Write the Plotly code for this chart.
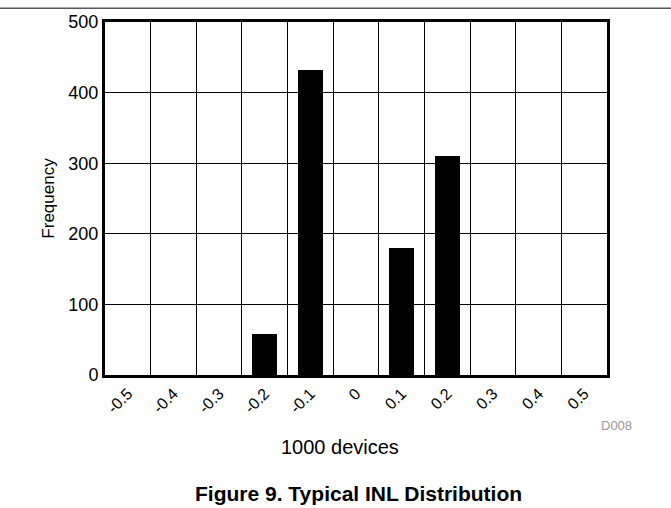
import plotly.graph_objects as go

# INL histogram (1000 devices)
inl_bins = [-0.5, -0.4, -0.3, -0.2, -0.1, 0.0, 0.1, 0.2, 0.3, 0.4, 0.5]
tick_labels = ["-0.5", "-0.4", "-0.3", "-0.2", "-0.1", "0", "0.1", "0.2", "0.3", "0.4", "0.5"]
counts = [0, 0, 0, 58, 432, 0, 180, 310, 0, 0, 0]
bin_edges = [-0.45, -0.35, -0.25, -0.15, -0.05, 0.05, 0.15, 0.25, 0.35, 0.45]

FONT = "Arial, Liberation Sans, sans-serif"

W, H = 671, 508
ML, MR, MT, MB = 105, 64, 18, 133
PW, PH = W - ML - MR, H - MT - MB

fig = go.Figure()
fig.add_trace(go.Bar(
    x=inl_bins, y=counts, width=0.055,
    marker=dict(color="black", line=dict(width=0)),
    showlegend=False,
))

fig.update_layout(
    width=W, height=H,
    margin=dict(l=ML, r=MR, t=MT, b=MB, pad=0),
    paper_bgcolor="white", plot_bgcolor="white",
    font=dict(family=FONT, size=14, color="black"),
    bargap=0,
)

fig.update_xaxes(
    range=[-0.55, 0.55],
    tickmode="array", tickvals=inl_bins, ticktext=tick_labels,
    tickangle=-45, ticks="", showgrid=False, zeroline=False,
    tickfont=dict(size=16, family=FONT),
    showline=True, mirror=True, linecolor="black", linewidth=3,
    minor=dict(tickmode="array", tickvals=bin_edges, showgrid=True,
               gridcolor="black", gridwidth=1, ticks=""),
)
fig.update_yaxes(
    range=[0, 500], tickmode="linear", tick0=0, dtick=100,
    ticks="", showgrid=True, gridcolor="black", gridwidth=1,
    zeroline=False, tickfont=dict(size=18, family=FONT),
    showline=True, mirror=True, linecolor="black", linewidth=3,
    title=dict(text="Frequency", font=dict(size=17, family=FONT), standoff=10),
)

def px_to_paper_x(px):
    return (px - ML) / PW

def px_to_paper_y(py):
    return (H - MB - py) / PH

# rule across the top of the page
fig.add_shape(type="line", xref="paper", yref="paper",
              x0=px_to_paper_x(0), x1=px_to_paper_x(W),
              y0=px_to_paper_y(4), y1=px_to_paper_y(4),
              line=dict(color="black", width=1))

fig.add_annotation(text="1000 devices", xref="paper", yref="paper",
                   x=px_to_paper_x(340), y=px_to_paper_y(448), xanchor="center", yanchor="middle",
                   showarrow=False, font=dict(size=20, family=FONT))
fig.add_annotation(text="D008", xref="paper", yref="paper",
                   x=px_to_paper_x(634), y=px_to_paper_y(426), xanchor="right", yanchor="middle",
                   showarrow=False, font=dict(size=13, family=FONT, color="#999999"))
fig.add_annotation(text="<b>Figure 9. Typical INL Distribution</b>", xref="paper", yref="paper",
                   x=px_to_paper_x(358), y=px_to_paper_y(495), xanchor="center", yanchor="middle",
                   showarrow=False, font=dict(size=21, family=FONT))

fig.write_html("out.html")
